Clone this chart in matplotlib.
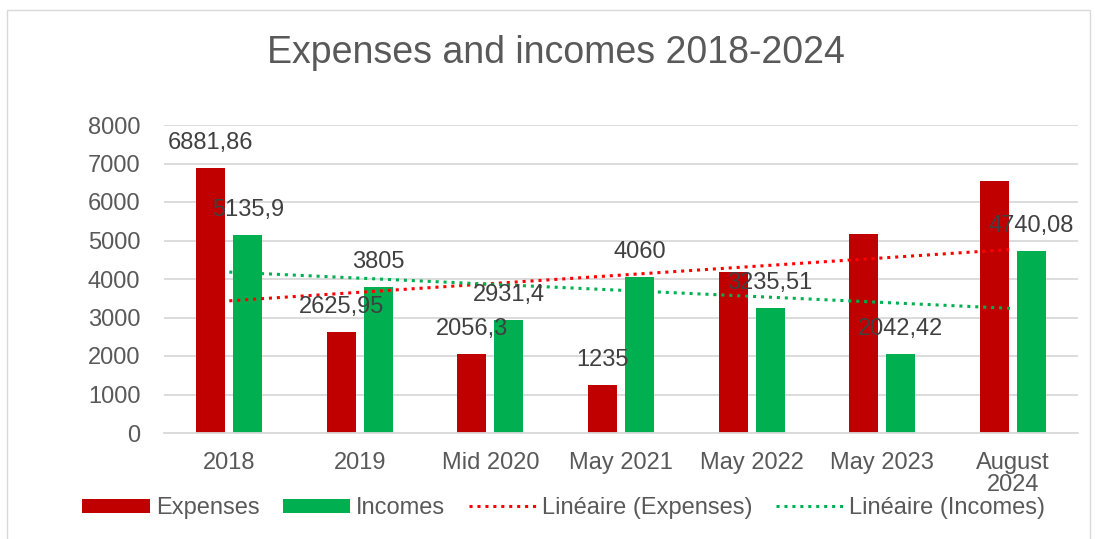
import numpy as np
import matplotlib.pyplot as plt
from matplotlib.patches import Rectangle

categories = ["2018", "2019", "Mid 2020", "May 2021", "May 2022", "May 2023", "August\n2024"]
expenses = [6881.86, 2625.95, 2056.3, 1235, 4180, 5180, 6550]
incomes = [5135.9, 3805, 2931.4, 4060, 3235.51, 2042.42, 4740.08]
exp_labels = ["6881,86", "2625,95", "2056,3", "1235", "", "", ""]
inc_labels = ["5135,9", "3805", "2931,4", "4060", "3235,51", "2042,42", "4740,08"]

plt.rcParams['font.family'] = ['Liberation Sans', 'DejaVu Sans']
grey = "#595959"
red = "#C00000"
green = "#00B050"

fig = plt.figure(figsize=(10.95, 5.39), dpi=100)
ax = fig.add_axes([164 / 1095, 1 - 433 / 539, (1078 - 164) / 1095, (433 - 125) / 539])

x = np.arange(len(categories))
w = 0.222
off = 0.1415
b1 = ax.bar(x - off, expenses, w, color=red, label="Expenses", zorder=2)
b2 = ax.bar(x + off, incomes, w, color=green, label="Incomes", zorder=2)

# linear trend lines like Excel
trends = []
for vals, col, lab in [(expenses, "#FF0000", "Linéaire (Expenses)"),
                       (incomes, green, "Linéaire (Incomes)")]:
    k, c = np.polyfit(x + 1, vals, 1)
    ln, = ax.plot(x, k * (x + 1) + c, color=col, ls=(0, (1, 1.6)), lw=2.2,
                  label=lab, zorder=3)
    trends.append(ln)

for xi, v, t in zip(x, expenses, exp_labels):
    if t:
        ax.annotate(t, (xi - off, v), xytext=(0, 25), textcoords="offset pixels",
                    ha="center", va="center", fontsize=17, color="#404040", zorder=4)
for xi, v, t in zip(x, incomes, inc_labels):
    ax.annotate(t, (xi + off, v), xytext=(0, 25), textcoords="offset pixels",
                ha="center", va="center", fontsize=17, color="#404040", zorder=4)

ax.set_xlim(-0.5, 6.5)
ax.set_ylim(0, 8000)
ax.set_yticks(range(0, 8001, 1000))
ax.set_xticks(x)
ax.set_xticklabels(categories, va="top", linespacing=1.0)
ax.tick_params(axis="both", length=0, labelsize=17, colors=grey)
ax.tick_params(axis="x", pad=14)
ax.tick_params(axis="y", pad=17)
ax.grid(axis="y", color="#d9d9d9", lw=1.3, zorder=0)
for s in ["top", "right", "left"]:
    ax.spines[s].set_visible(False)
ax.spines["bottom"].set_color("#d9d9d9")
ax.spines["bottom"].set_linewidth(1.3)

fig.text(0.508, 1 - 53 / 539, "Expenses and incomes 2018-2024", ha="center", va="center",
         fontsize=27, color=grey)

fig.legend(handles=[b1, b2] + trends, loc="center", bbox_to_anchor=(0.515, 1 - 508 / 539),
           ncol=4, frameon=False, fontsize=17, labelcolor=grey, handlelength=2.85,
           handleheight=0.55, columnspacing=1.0, handletextpad=0.25)

fig.patches.append(Rectangle((7 / 1095, -0.01), (1090 - 7) / 1095, 1 - 10 / 539 + 0.01,
                             transform=fig.transFigure, fill=False, ec="#d9d9d9", lw=1))

fig.savefig("out.png", dpi=100)
